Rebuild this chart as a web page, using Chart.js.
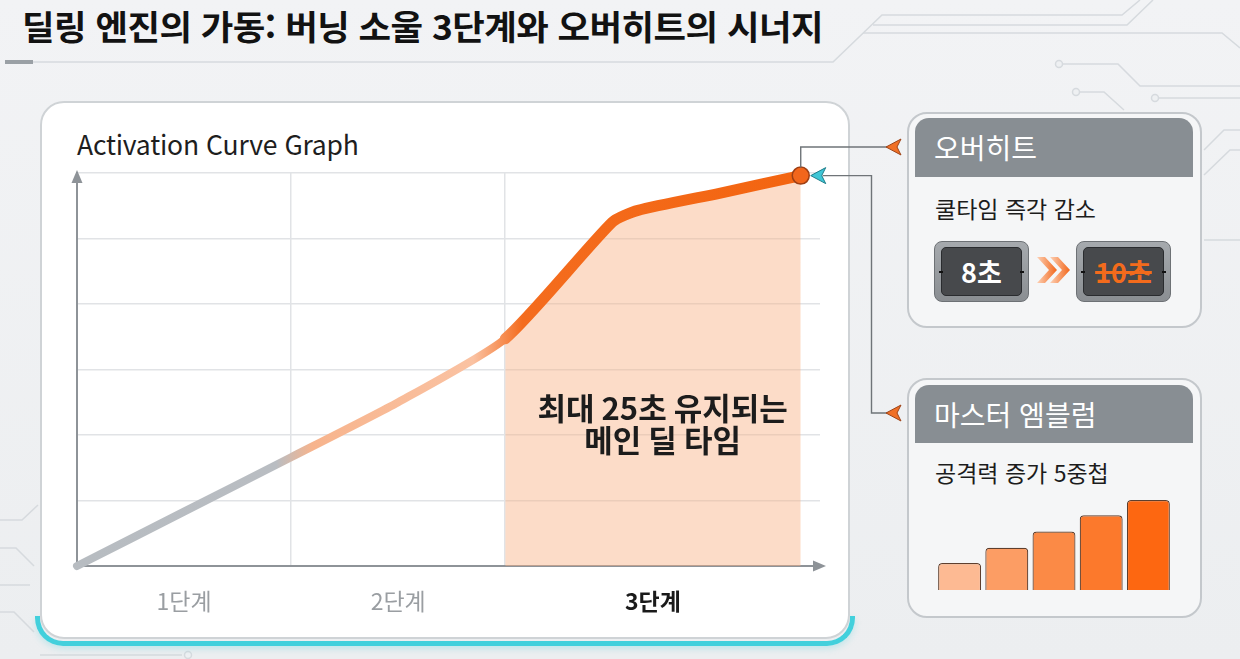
<!DOCTYPE html>
<html lang="ko">
<head>
<meta charset="utf-8">
<script src="https://cdn.jsdelivr.net/npm/chart.js@4.4.1/dist/chart.umd.min.js"></script>
<style>
  html,body{margin:0;padding:0;width:1240px;height:659px;overflow:hidden;
    background:linear-gradient(180deg,#f2f3f5 0%,#eceef0 100%);
    font-family:"Noto Sans CJK KR","Noto Sans",sans-serif;}
  .abs{position:absolute;box-sizing:border-box;}
  #title{left:22px;top:2px;font-size:34px;font-weight:700;color:#121212;letter-spacing:-0.5px;white-space:nowrap;line-height:48px;transform-origin:0 50%;}
  #chartPanel{left:40px;top:101px;width:810px;height:538px;border:2px solid #cfd3d6;border-radius:24px;background:#fff;z-index:1;}
  #cyan{left:35px;top:616px;width:820px;height:30px;border:5px solid #42d0dc;border-top:none;border-radius:0 0 28px 28px;z-index:0;box-shadow:0 3px 6px rgba(66,208,220,0.25);}
  #graphTitle{left:77px;top:127px;font-size:26.5px;color:#1e1e1e;z-index:2;white-space:nowrap;line-height:34px;letter-spacing:-0.2px;}
  #mainWrap{left:0;top:0;width:1240px;height:659px;z-index:3;}
  .panel{border:2px solid #c4c8cc;border-radius:20px;background:#f5f6f7;z-index:1;}
  .head{background:#888e93;border-radius:14px 14px 0 0;color:#fff;font-size:28px;padding-left:19px;z-index:2;white-space:nowrap;}
  .body{font-size:23px;color:#1c1c1c;z-index:2;white-space:nowrap;}
  .tbox{border-radius:8px;background:linear-gradient(180deg,#a6aaae,#8a8e92);border:1.5px solid #6d7175;z-index:2;padding:5px 6px;}
  .tin{width:100%;height:100%;box-sizing:border-box;background:#47494c;border:1.5px solid #2a2c2f;border-radius:5px;
       display:flex;align-items:center;justify-content:center;font-weight:700;font-size:27px;position:relative;}
  .tin:before,.tin:after{content:"";position:absolute;top:50%;width:4px;height:2px;background:#111;margin-top:-1px;}
  .tin:before{left:-3px;} .tin:after{right:-3px;}
</style>
</head>
<body>
<svg class="abs" style="left:0;top:0;z-index:0" width="1240" height="659" viewBox="0 0 1240 659">
  <g fill="none" stroke="#d6dade" stroke-width="1.5">
    <polyline points="5,62 833,62 882,15 1122,15 1140,0"/>
    <polyline points="873,25 1127,25 1153,0"/>
    <polyline points="863,33 1222,33 1240,48"/>
    <polyline points="1062,64 1118,64 1140,86 1240,86"/>
    <polyline points="1079,92 1104,92 1124,110"/>
    <polyline points="1158,98 1240,98"/>
    <polyline points="1204,150 1224,130 1240,130"/>
    <polyline points="1204,175 1230,150 1240,150"/>
    <polyline points="1204,240 1240,240"/>
    <polyline points="0,520 22,520 38,505"/>
    <polyline points="0,548 16,548 34,566"/>
    <polyline points="0,585 30,585"/>
    <polyline points="0,612 14,612 34,632"/>
    <polyline points="40,655 182,655"/>
    <circle cx="1059" cy="64" r="3.5" fill="#eef0f2"/>
    <circle cx="1076" cy="92" r="3.5" fill="#eef0f2"/>
    <circle cx="1155" cy="98" r="3.5" fill="#eef0f2"/>
    <circle cx="188" cy="655" r="3.5" fill="#eef0f2"/>
  </g>
  <rect x="5" y="60" width="28" height="4" fill="#9aa0a5"/>
</svg>

<div id="title" class="abs">딜링 엔진의 가동: 버닝 소울 3단계와 오버히트의 시너지</div>

<div id="cyan" class="abs"></div>
<div id="chartPanel" class="abs"></div>
<div id="graphTitle" class="abs">Activation Curve Graph</div>

<!-- Overheat panel -->
<div class="abs panel" style="left:907px;top:112px;width:295px;height:216px;"></div>
<div class="abs head" style="left:915px;top:118px;width:278px;height:59px;line-height:59px;">오버히트</div>
<div class="abs body" style="left:935px;top:191px;line-height:34px;">쿨타임 즉각 감소</div>
<div class="abs tbox" style="left:934px;top:241px;width:95px;height:61px;"><div class="tin" style="color:#fff;">8초</div></div>
<svg class="abs" style="left:1035px;top:255px;z-index:2" width="40" height="30" viewBox="0 0 40 30">
  <defs><linearGradient id="chev" x1="0" x2="1" y1="0" y2="0">
    <stop offset="0" stop-color="#fdd0b4"/><stop offset="1" stop-color="#f2661a"/></linearGradient></defs>
  <polygon points="2,2 10,2 22,15 10,28 2,28 14,15" fill="url(#chev)"/>
  <polygon points="15,2 23,2 35,15 23,28 15,28 27,15" fill="url(#chev)"/>
</svg>
<div class="abs tbox" style="left:1076px;top:241px;width:95px;height:61px;"><div class="tin" style="color:#f36b1c;text-decoration:line-through;text-decoration-thickness:3px;">10초</div></div>

<!-- Master emblem panel -->
<div class="abs panel" style="left:907px;top:378px;width:295px;height:240px;"></div>
<div class="abs head" style="left:915px;top:385px;width:278px;height:58px;line-height:58px;">마스터 엠블럼</div>
<div class="abs body" style="left:935px;top:455px;line-height:34px;">공격력 증가 5중첩</div>
<div class="abs" style="left:934px;top:498px;width:240px;height:94px;z-index:2;"><canvas id="emblem"></canvas></div>

<div id="mainWrap" class="abs"><canvas id="main"></canvas></div>

<script>
// ---------- data ----------
const stageLabels = ['1단계', '2단계', '3단계'];
const stageLabelPos = [0.5, 1.5, 2.69];
const stageBounds = [1, 2];
const curveX = [0, 0.5, 1, 1.5, 2, 2.5, 2.62, 3.0, 3.38];
const curveY = [0, 0.83, 1.66, 2.5, 3.47, 5.25, 5.43, 5.69, 5.96];
const burnStart = 2;          // 3단계 start (x)
const xMax = 3.47;
const yMax = 6;
const noteLines = ['최대 25초 유지되는', '메인 딜 타임'];
const noteX = 2.735;
const noteY = [2.41, 1.92];
const emblemLabels = ['1중첩', '2중첩', '3중첩', '4중첩', '5중첩'];
const emblemValues = [30, 47, 65, 83, 100];
const emblemColors = ['#fdba93', '#fc9d64', '#fb8a46', '#fc792c', '#fd6711'];

const FONT = '"Noto Sans CJK KR", "Noto Sans", sans-serif';

// fit title to its reference width
(function () {
  const t = document.getElementById('title');
  const w = t.getBoundingClientRect().width;
  if (w > 0) t.style.transform = 'scaleX(' + (801 / w) + ')';
})();

const linePts = curveX.map((x, i) => ({x, y: curveY[i]}));
const fillPts = linePts.filter(p => p.x >= burnStart);

function lineGradient(ctx) {
  const ch = ctx.chart, a = ch.chartArea;
  if (!a) return '#b6bbc0';
  const xs = ch.scales.x;
  const f = v => Math.min(1, Math.max(0, (xs.getPixelForValue(v) - a.left) / (a.right - a.left)));
  const g = ch.ctx.createLinearGradient(a.left, 0, a.right, 0);
  g.addColorStop(0, '#b7bcc1');
  g.addColorStop(f(0.93), '#b9bdc2');
  g.addColorStop(f(1.1), '#f7b48d');
  g.addColorStop(f(1.85), '#fac2a2');
  g.addColorStop(f(2.08), '#f46c1e');
  g.addColorStop(1, '#f3640f');
  return g;
}

const overlay = {
  id: 'overlay',
  afterDatasetsDraw(chart) {
    const {ctx, chartArea: a, scales: {x, y}} = chart;
    ctx.save();
    // axis arrows
    ctx.fillStyle = '#8e9398';
    ctx.beginPath(); ctx.moveTo(a.left, a.top - 3); ctx.lineTo(a.left - 5.5, a.top + 10); ctx.lineTo(a.left + 5.5, a.top + 10); ctx.closePath(); ctx.fill();
    ctx.beginPath(); ctx.moveTo(a.right + 6, a.bottom); ctx.lineTo(a.right - 7, a.bottom - 5.5); ctx.lineTo(a.right - 7, a.bottom + 5.5); ctx.closePath(); ctx.fill();

    // note text
    ctx.fillStyle = '#1c1c1c';
    ctx.font = 'bold 31px ' + FONT;
    ctx.textAlign = 'center'; ctx.textBaseline = 'middle';
    const cx = x.getPixelForValue(noteX);
    noteLines.forEach((t, i) => ctx.fillText(t, cx, y.getPixelForValue(noteY[i])));

    // connectors from end point
    const meta = chart.getDatasetMeta(1);
    const last = meta.data[meta.data.length - 1];
    const px = last.x, py = last.y;
    ctx.strokeStyle = '#6f7478'; ctx.lineWidth = 1.4;
    ctx.beginPath(); ctx.moveTo(px, py - 8); ctx.lineTo(px, 147); ctx.lineTo(889, 147); ctx.stroke();
    ctx.beginPath(); ctx.moveTo(px + 22, py); ctx.lineTo(871.5, py); ctx.lineTo(871.5, 413); ctx.lineTo(889, 413); ctx.stroke();

    function arrowHead(tx, ty, fill, stroke) {
      ctx.beginPath();
      ctx.moveTo(tx, ty); ctx.lineTo(tx + 15, ty - 8); ctx.lineTo(tx + 11, ty); ctx.lineTo(tx + 15, ty + 8); ctx.closePath();
      ctx.fillStyle = fill; ctx.fill();
      ctx.strokeStyle = stroke; ctx.lineWidth = 1; ctx.stroke();
    }
    arrowHead(886, 147, '#f07026', '#9c4318');
    arrowHead(886, 413, '#f07026', '#9c4318');
    arrowHead(px + 10, py, '#3ec6d6', '#1d7d8a');
    ctx.restore();
  }
};

new Chart(document.getElementById('main'), {
  type: 'line',
  data: {
    datasets: [
      {
        label: '3단계 구간',
        data: fillPts,
        fill: 'origin',
        backgroundColor: 'rgba(249,178,132,0.45)',
        borderWidth: 0,
        pointRadius: 0,
        tension: 0.2,
        order: 2
      },
      {
        label: 'Activation',
        data: linePts,
        fill: false,
        clip: false,
        borderColor: lineGradient,
        borderWidth: 8,
        borderCapStyle: 'round',
        borderJoinStyle: 'round',
        tension: 0.2,
        segment: { borderWidth: c => c.p0.parsed.x >= burnStart ? 11 : 8 },
        pointRadius: c => c.dataIndex === linePts.length - 1 ? 8.5 : 0,
        pointBackgroundColor: '#f2661c',
        pointBorderColor: '#9e3f14',
        pointBorderWidth: 1.5,
        order: 1
      }
    ]
  },
  options: {
    responsive: true,
    maintainAspectRatio: false,
    animation: false,
    events: [],
    layout: { padding: { left: 77, top: 173, right: 420, bottom: 0 } },
    plugins: { legend: { display: false }, tooltip: { enabled: false } },
    scales: {
      x: {
        type: 'linear', min: 0, max: xMax,
        afterBuildTicks: s => { s.ticks = [0, 0.5, 1, 1.5, 2, 2.69].map(v => ({value: v})); },
        afterFit: s => { s.height = 93; },
        ticks: {
          autoSkip: false, padding: 21, maxRotation: 0,
          callback: v => { const i = stageLabelPos.indexOf(v); return i >= 0 ? stageLabels[i] : ''; },
          font: c => ({ family: FONT, size: 23, weight: (c.tick && c.tick.value > burnStart) ? 'bold' : 'normal' }),
          color: c => (c.tick && c.tick.value > burnStart) ? '#1a1a1a' : '#9a9ea2'
        },
        grid: {
          drawTicks: false, lineWidth: 1.5,
          color: c => (c.tick && stageBounds.includes(c.tick.value)) ? '#e1e3e6' : 'rgba(0,0,0,0)'
        },
        border: { display: true, color: '#8e9398', width: 2 }
      },
      y: {
        type: 'linear', min: 0, max: yMax,
        afterFit: s => { s.width = 0; },
        ticks: { display: false, stepSize: 1 },
        grid: { drawTicks: false, lineWidth: 1.5, color: c => (c.tick && c.tick.value > 0) ? '#e1e3e6' : 'rgba(0,0,0,0)' },
        border: { display: true, color: '#8e9398', width: 2 }
      }
    }
  },
  plugins: [overlay]
});

new Chart(document.getElementById('emblem'), {
  type: 'bar',
  data: {
    labels: emblemLabels,
    datasets: [{
      data: emblemValues,
      backgroundColor: emblemColors,
      borderColor: '#5e3f2e',
      borderWidth: 1.2,
      borderRadius: { topLeft: 4, topRight: 4 },
      borderSkipped: 'bottom',
      barPercentage: 0.91,
      categoryPercentage: 1
    }]
  },
  options: {
    responsive: true, maintainAspectRatio: false, animation: false, events: [],
    layout: { padding: 2 },
    plugins: { legend: { display: false }, tooltip: { enabled: false } },
    scales: {
      x: { display: false },
      y: { display: false, min: 0, max: 100 }
    }
  }
});
</script>
</body>
</html>
